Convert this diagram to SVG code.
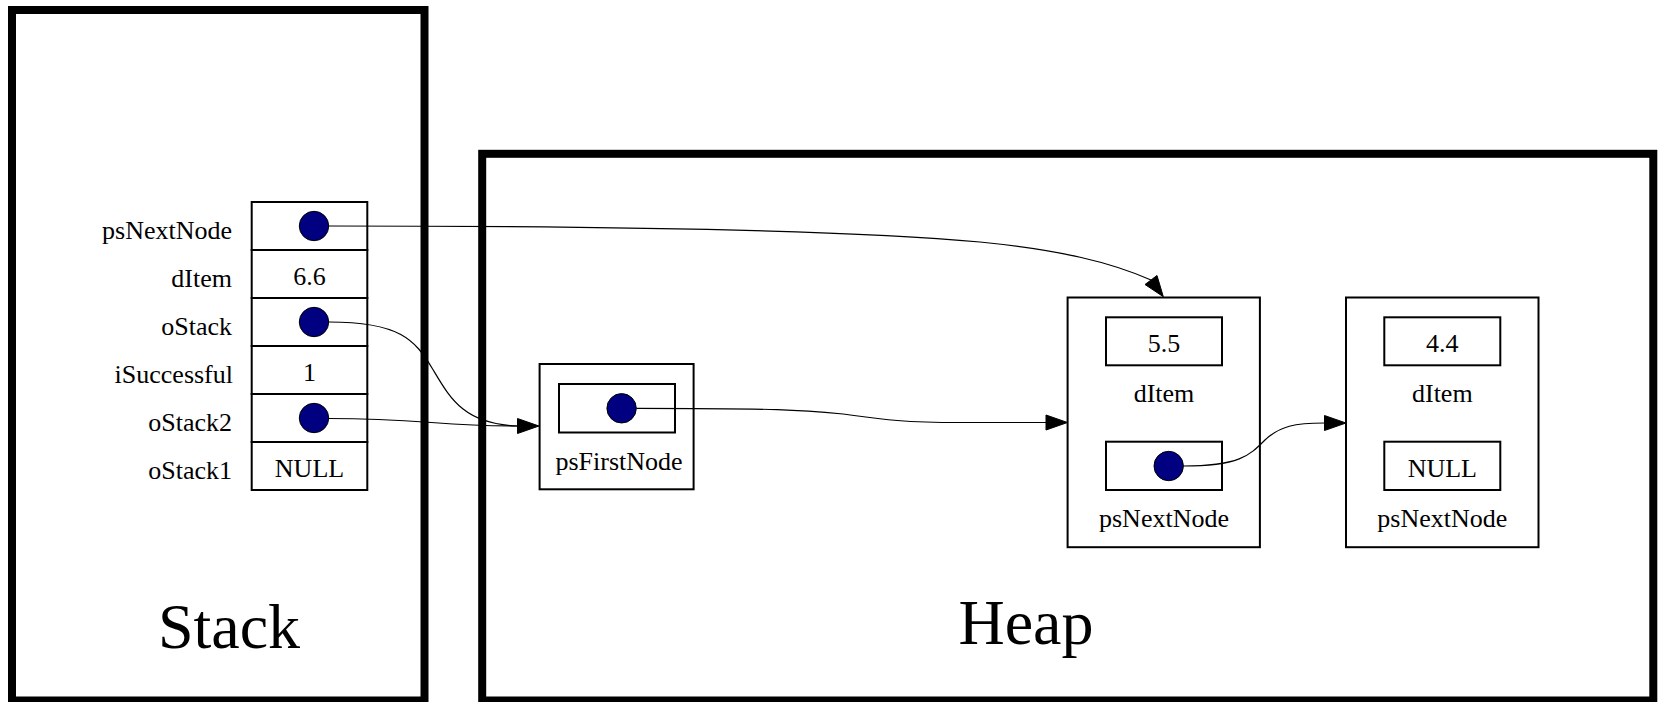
<svg xmlns="http://www.w3.org/2000/svg" width="1659" height="702" viewBox="0 0 1659 702">
<style>
.frame{fill:none;stroke:#000;stroke-width:8}
.box{fill:#fff;stroke:#000;stroke-width:2}
.ptr{fill:#000080;stroke:#000;stroke-width:1}
.t{font-family:"Liberation Serif","Times New Roman",serif;font-size:26px;fill:#000}
.lbl{text-anchor:end}
.c{text-anchor:middle}
.big{font-family:"Liberation Serif","Times New Roman",serif;font-size:64px;fill:#000;text-anchor:middle}
.edge{fill:none;stroke:#000;stroke-width:1.2}
.head{fill:#000;stroke:#000;stroke-width:1}
</style>
<rect width="1659" height="702" fill="#fff"/>
<g id="stack">
<rect class="frame" x="12" y="10" width="412.5" height="690.5"/>
<text class="big" x="229" y="647.5">Stack</text>
</g>
<g id="heap">
<rect class="frame" x="482.2" y="153.8" width="1171.1" height="546.7"/>
<text class="big" x="1026" y="643.5">Heap</text>
</g>
<g id="stackframe">
<rect class="box" x="251.7" y="202" width="115.6" height="48"/>
<rect class="box" x="251.7" y="250" width="115.6" height="48"/>
<rect class="box" x="251.7" y="298" width="115.6" height="48"/>
<rect class="box" x="251.7" y="346" width="115.6" height="48"/>
<rect class="box" x="251.7" y="394" width="115.6" height="48"/>
<rect class="box" x="251.7" y="442" width="115.6" height="48"/>
<text class="t lbl" x="232" y="238.5">psNextNode</text>
<text class="t lbl" x="232" y="286.5">dItem</text>
<text class="t lbl" x="232" y="334.5">oStack</text>
<text class="t lbl" x="233" y="382.5">iSuccessful</text>
<text class="t lbl" x="232" y="430.5">oStack2</text>
<text class="t lbl" x="232" y="478.5">oStack1</text>
<circle class="ptr" cx="314" cy="226" r="14.7"/>
<text class="t c" x="309.5" y="284.5">6.6</text>
<circle class="ptr" cx="314" cy="322" r="14.7"/>
<text class="t c" x="309.5" y="380.5">1</text>
<circle class="ptr" cx="314" cy="418" r="14.7"/>
<text class="t c" x="309.5" y="476.5">NULL</text>
</g>
<g id="psFirstNode">
<rect class="box" x="539.6" y="364" width="154" height="125.3"/>
<rect class="box" x="559" y="384" width="116" height="48.5"/>
<circle class="ptr" cx="621.6" cy="408.3" r="14.7"/>
<text class="t c" x="619" y="469.5">psFirstNode</text>
</g>
<g id="node55">
<rect class="box" x="1067.6" y="297.5" width="192.3" height="249.7"/>
<rect class="box" x="1106" y="317.3" width="116" height="48"/>
<text class="t c" x="1164" y="351.7">5.5</text>
<text class="t c" x="1164" y="401.7">dItem</text>
<rect class="box" x="1106" y="441.7" width="116" height="48.3"/>
<circle class="ptr" cx="1168.7" cy="466" r="14.7"/>
<text class="t c" x="1164" y="526.7">psNextNode</text>
</g>
<g id="node44">
<rect class="box" x="1346" y="297.5" width="192.5" height="249.7"/>
<rect class="box" x="1384.3" y="317.3" width="116" height="48"/>
<text class="t c" x="1442.3" y="351.7">4.4</text>
<text class="t c" x="1442.3" y="401.7">dItem</text>
<rect class="box" x="1384.3" y="441.7" width="116" height="48.3"/>
<text class="t c" x="1442.3" y="476.7">NULL</text>
<text class="t c" x="1442.3" y="526.7">psNextNode</text>
</g>
<g id="connectors">
<path class="edge" d="M329,226 C600,226 850,230 980,242 C1060,250 1110,262 1151,280"/>
<polygon class="head" points="1163.3,296.7 1145,284.5 1157,275.5"/>
<path class="edge" d="M329,322 C400,322 415,340 432,368 C449,396 462,424 517.5,426"/>
<path class="edge" d="M329,418.5 C420,418.5 440,426 517.5,426"/>
<polygon class="head" points="539,426 517.5,418.5 517.5,433.5"/>
<path class="edge" d="M636.3,408.3 C780,408.3 800,410 843,414 C880,419 900,422.5 960,422.5 L1046,422.5"/>
<polygon class="head" points="1067.5,422.5 1046,415 1046,430"/>
<path class="edge" d="M1183.4,466 C1240,466 1250,455 1265,440 C1280,426 1295,423 1324.5,423"/>
<polygon class="head" points="1346,423 1324.5,415.5 1324.5,430.5"/>
</g>
</svg>
